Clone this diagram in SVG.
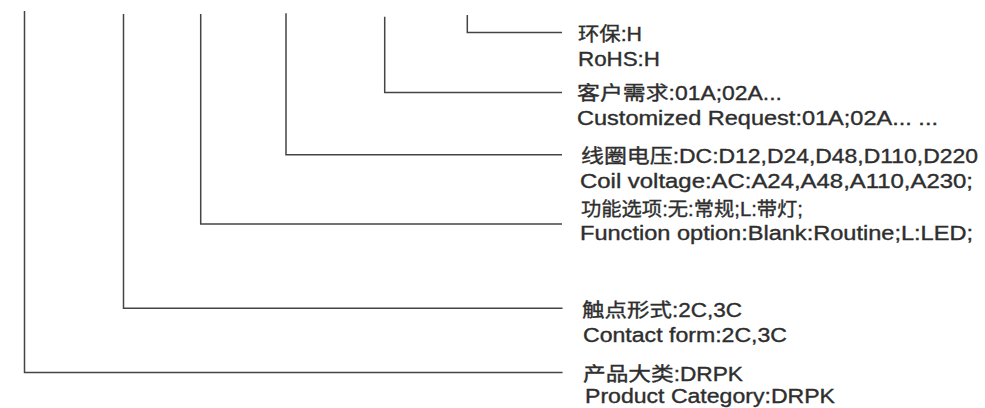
<svg xmlns="http://www.w3.org/2000/svg" width="985" height="408" viewBox="0 0 985 408">
<style>
.c{fill:none;stroke:#444;stroke-width:1.5;}
.t{font-family:"Liberation Sans","Noto Sans CJK SC",Arial,sans-serif;font-size:19.5px;fill:#2e2e2e;stroke:#2e2e2e;stroke-width:0.35;}
</style>
<rect width="985" height="408" fill="#fff"/>
<g id="connectors">
<polyline class="c" points="467.3,15 467.3,32.4 562,32.4"/>
<polyline class="c" points="384.7,16.7 384.7,92.5 562,92.5"/>
<polyline class="c" points="286,13.3 286,154.8 562,154.8"/>
<polyline class="c" points="200.7,14 200.7,224 562,224"/>
<polyline class="c" points="123.5,14 123.5,308.3 562.5,308.3"/>
<polyline class="c" points="24.5,11 24.5,372.6 562.5,372.6"/>
</g>
<g id="node-rohs">
<text class="t" transform="translate(578,41) scale(1.2,1)" textLength="53.3" lengthAdjust="spacingAndGlyphs">环保:H</text>
<text class="t" transform="translate(578,65.5) scale(1.2,1)" textLength="68.3" lengthAdjust="spacingAndGlyphs">RoHS:H</text>
</g>
<g id="node-request">
<text class="t" transform="translate(577,100) scale(1.2,1)" textLength="170.8" lengthAdjust="spacingAndGlyphs">客户需求:01A;02A...</text>
<text class="t" transform="translate(577,124.5) scale(1.2,1)" textLength="300.8" lengthAdjust="spacingAndGlyphs">Customized Request:01A;02A... ...</text>
</g>
<g id="node-coil">
<text class="t" transform="translate(581,163) scale(1.2,1)" textLength="330.8" lengthAdjust="spacingAndGlyphs">线圈电压:DC:D12,D24,D48,D110,D220</text>
<text class="t" transform="translate(580,188) scale(1.2,1)" textLength="327.5" lengthAdjust="spacingAndGlyphs">Coil voltage:AC:A24,A48,A110,A230;</text>
</g>
<g id="node-function">
<text class="t" transform="translate(581,216) scale(1.2,1)" textLength="185" lengthAdjust="spacingAndGlyphs">功能选项:无:常规;L:带灯;</text>
<text class="t" transform="translate(580,239.5) scale(1.2,1)" textLength="327.5" lengthAdjust="spacingAndGlyphs">Function option:Blank:Routine;L:LED;</text>
</g>
<g id="node-contact">
<text class="t" transform="translate(582,317) scale(1.2,1)" textLength="133.3" lengthAdjust="spacingAndGlyphs">触点形式:2C,3C</text>
<text class="t" transform="translate(583,341.5) scale(1.2,1)" textLength="170" lengthAdjust="spacingAndGlyphs">Contact form:2C,3C</text>
</g>
<g id="node-product">
<text class="t" transform="translate(583,381) scale(1.2,1)" textLength="133.3" lengthAdjust="spacingAndGlyphs">产品大类:DRPK</text>
<text class="t" transform="translate(585,403) scale(1.2,1)" textLength="208.3" lengthAdjust="spacingAndGlyphs">Product Category:DRPK</text>
</g>
</svg>
